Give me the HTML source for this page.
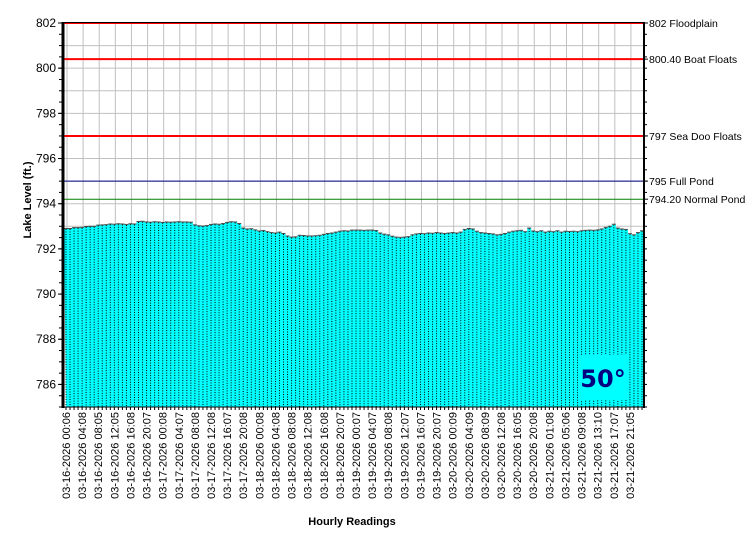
<!DOCTYPE html>
<html><head><meta charset="utf-8"><style>
body{margin:0;background:#fff;}
svg{display:block;font-family:"Liberation Sans",sans-serif;}
</style></head><body>
<svg id="chart" width="750" height="550">
<text x="352" y="525" font-size="11" font-weight="bold" text-anchor="middle">Hourly Readings</text>
<text transform="translate(31,200) rotate(-90)" font-size="11" font-weight="bold" text-anchor="middle">Lake Level (ft.)</text>
</svg>
<script>
const yTicks=[786,788,790,792,794,796,798,800,802];
const refValues=[802,800.4,797,795,794.2];
const refLabels=["802 Floodplain","800.40 Boat Floats","797 Sea Doo Floats","795 Full Pond","794.20 Normal Pond"];
const refColors=["#ff0000","#ff0000","#ff0000","#000080","#008000"];
const xLabels=["03-16-2026 00:06","03-16-2026 04:08","03-16-2026 08:05","03-16-2026 12:05","03-16-2026 16:08","03-16-2026 20:07","03-17-2026 00:08","03-17-2026 04:07","03-17-2026 08:08","03-17-2026 12:08","03-17-2026 16:07","03-17-2026 20:08","03-18-2026 00:08","03-18-2026 04:08","03-18-2026 08:08","03-18-2026 12:08","03-18-2026 16:08","03-18-2026 20:07","03-19-2026 00:07","03-19-2026 04:07","03-19-2026 08:08","03-19-2026 12:07","03-19-2026 16:07","03-19-2026 20:07","03-20-2026 00:09","03-20-2026 04:09","03-20-2026 08:09","03-20-2026 12:08","03-20-2026 16:05","03-20-2026 20:08","03-21-2026 01:08","03-21-2026 05:06","03-21-2026 09:08","03-21-2026 13:10","03-21-2026 17:07","03-21-2026 21:05"];
const levels=[
792.88,792.88,792.92,792.92,792.93,792.97,792.98,792.98,793.03,793.04,793.05,793.08,793.07,793.09,793.08,793.06,793.09,793.08,793.19,793.2,
793.17,793.16,793.18,793.17,793.15,793.17,793.16,793.17,793.18,793.17,793.17,793.16,793.04,793.0,792.99,793.01,793.06,793.08,793.07,793.1,
793.15,793.18,793.17,793.1,792.9,792.86,792.87,792.82,792.77,792.79,792.74,792.7,792.68,792.72,792.66,792.55,792.5,792.51,792.58,792.57,
792.55,792.55,792.56,792.58,792.62,792.66,792.68,792.72,792.76,792.78,792.77,792.81,792.81,792.81,792.8,792.81,792.81,792.79,792.68,792.63,
792.6,792.54,792.5,792.49,792.5,792.52,792.6,792.64,792.66,792.65,792.68,792.67,792.7,792.68,792.66,792.68,792.7,792.68,792.72,792.84,
792.88,792.86,792.76,792.7,792.68,792.66,792.64,792.6,792.62,792.66,792.72,792.76,792.78,792.8,792.74,792.9,792.77,792.74,792.78,792.72,
792.76,792.74,792.78,792.72,792.76,792.75,792.76,792.74,792.78,792.8,792.81,792.8,792.82,792.86,792.93,792.98,793.07,792.9,792.86,792.84,
792.65,792.6,792.7,792.78];
const NS="http://www.w3.org/2000/svg";
const svg=document.getElementById('chart');
const L=64,R=644,T=23,B=407,YMIN=785,YMAX=802;
const yS=v=>T+(YMAX-v)/(YMAX-YMIN)*(B-T);
const N=levels.length;
const step=(R-2-(L+2))/(N-1);
const xS=i=>L+2+i*step;
function mk(tag,attrs,parent){const e=document.createElementNS(NS,tag);for(const k in attrs)e.setAttribute(k,attrs[k]);(parent||svg).appendChild(e);return e;}
const grid=mk('g',{});


for(let v=YMIN+1;v<=YMAX;v++){mk('line',{x1:L,x2:R,y1:yS(v),y2:yS(v),stroke:'#c0c0c0','stroke-width':1},grid);}
for(let k=0;k<xLabels.length;k++){const x=xS(k*4)+1;mk('line',{x1:x,x2:x,y1:T,y2:B,stroke:'#c0c0c0','stroke-width':1},grid);}
let pts=`${xS(0)},${B} `;
levels.forEach((v,i)=>{pts+=`${xS(i)-step/2},${yS(v)} ${xS(i)+step/2},${yS(v)} `;});
pts+=`${xS(N-1)+step/2},${B}`;
const area=mk('polygon',{points:pts,fill:'#00ffff'});


const bars=mk('g',{});


levels.forEach((v,i)=>{
 const b=mk('line',{x1:xS(i),x2:xS(i),y1:yS(v),y2:B,stroke:'#000','stroke-width':1,'stroke-dasharray':'1,1.5'},bars);
 
 
 mk('rect',{x:xS(i)-step/2,y:yS(v)-1,width:step,height:1,fill:'#000','fill-opacity':0.7},bars);
});
refValues.forEach((v,i)=>{
 const w=refColors[i]==='#ff0000'?2:1;
 const ln=mk('line',{x1:L,x2:R,y1:yS(v),y2:yS(v),stroke:refColors[i],'stroke-width':w});
 
 
 mk('line',{x1:R,x2:R+4,y1:yS(v),y2:yS(v),stroke:'#000'});
 const t=mk('text',{x:R+5,y:yS(v)+4,'font-size':10.5});
 t.textContent=refLabels[i];
 
 
});
const badge=mk('rect',{x:578,y:355,width:50,height:45,fill:'#00ffff'});


const bt=mk('text',{x:603,y:387,'font-size':24,'font-weight':'bold',fill:'#000080','text-anchor':'middle','font-family':'"DejaVu Sans",sans-serif'});
bt.textContent='50°';


const ax=mk('g',{});


mk('line',{x1:L-1,x2:L-1,y1:T-1,y2:B+1,stroke:'#000','stroke-width':3},ax);
mk('line',{x1:R,x2:R,y1:T-1,y2:B+1,stroke:'#000','stroke-width':2},ax);
mk('line',{x1:L,x2:R,y1:B,y2:B,stroke:'#000','stroke-width':1},ax);
mk('line',{x1:L,x2:R,y1:T-0.5,y2:T-0.5,stroke:'#000','stroke-width':1},ax);
for(let v=YMIN;v<=YMAX;v+=0.5){const y=yS(v);mk('line',{x1:L-5,x2:L-2,y1:y,y2:y,stroke:'#000'},ax);mk('line',{x1:R,x2:R+3,y1:y,y2:y,stroke:'#000'},ax);}
yTicks.forEach(v=>{const y=yS(v);mk('line',{x1:L-6,x2:L-2,y1:y,y2:y,stroke:'#000'},ax);
 const t=mk('text',{x:L-8,y:y+4,'font-size':12,'text-anchor':'end'},ax);t.textContent=v;
 
 });
levels.forEach((v,i)=>{mk('line',{x1:xS(i),x2:xS(i),y1:B,y2:B+3,stroke:'#000'},ax);});
xLabels.forEach((s,k)=>{const x=xS(k*4)+4;
 const t=mk('text',{transform:`translate(${x},${B+5}) rotate(-90)`,'font-size':11,'text-anchor':'end'},ax);t.textContent=s;
 
 });
</script>
</body></html>
